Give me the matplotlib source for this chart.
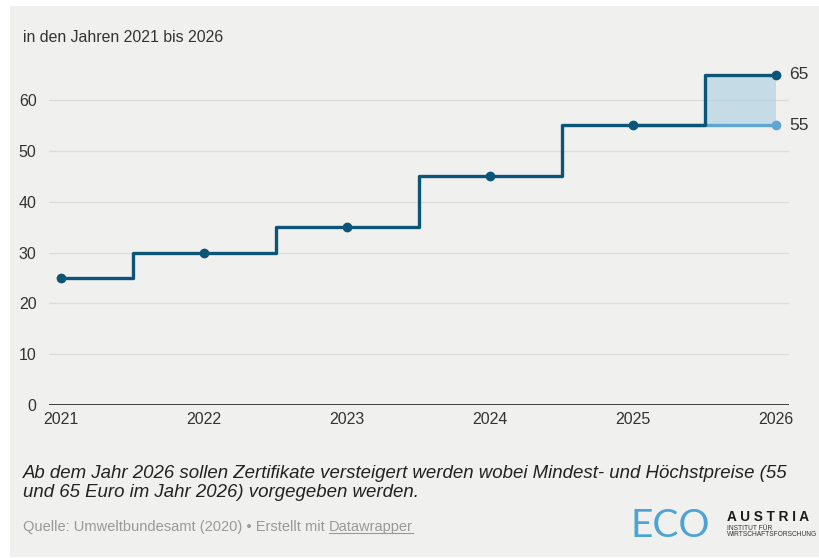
import numpy as np
import matplotlib.pyplot as plt

plt.rcParams['font.family'] = ['Liberation Sans', 'DejaVu Sans']

# data
years = [2021, 2022, 2023, 2024, 2025, 2026]
max_price = [25, 30, 35, 45, 55, 65]
min_years = [2025, 2026]
min_price = [55, 55]
yticks = [0, 10, 20, 30, 40, 50, 60]

dark = '#0d5576'
light = '#5ea6d1'
bg = '#f0f0ef'

fig = plt.figure(figsize=(8.19, 5.58), dpi=100)
fig.patch.set_facecolor('white')
# grey panel
fig.patches.append(plt.Rectangle((10 / 819, 0.002), 809 / 819, (557 - 6) / 558,
                                 transform=fig.transFigure, facecolor=bg,
                                 edgecolor='none', zorder=-5))

ax = fig.add_axes([49 / 819, (558 - 405) / 558, 740 / 819, 68 * 5.083 / 558])
ax.set_facecolor('none')
ax.set_xlim(2021 - 12 / 143, 2026 + 13 / 143)
ax.set_ylim(0, 68)
for s in ax.spines.values():
    s.set_visible(False)

for t in yticks[1:]:
    ax.axhline(t, color='#dcdcdc', lw=1, zorder=1)
ax.axhline(0, color='#333333', lw=1.3, zorder=2)

ax.set_yticks(yticks)
ax.set_xticks(years)
ax.tick_params(length=0, labelsize=11.5, labelcolor='#333333')
ax.tick_params(axis='y', pad=9)
ax.tick_params(axis='x', pad=5)

# shaded range in last year
ax.fill_between(min_years, min_price, max_price[-2:], step='mid',
                color='#a9cde0', alpha=0.6, lw=0, zorder=2)
ax.plot(min_years, min_price, drawstyle='steps-mid', color=light, lw=2.4,
        zorder=3)
ax.plot(years, max_price, drawstyle='steps-mid', color=dark, lw=2.4, zorder=4)
ax.plot(years, max_price, 'o', color=dark, ms=6, zorder=5)
ax.plot(min_years[-1], min_price[-1], 'o', color=light, ms=6, zorder=5)

ax.text(years[-1] + 0.09, max_price[-1], str(max_price[-1]), va='center',
        ha='left', fontsize=12.5, color='#333333')
ax.text(years[-1] + 0.09, min_price[-1], str(min_price[-1]), va='center',
        ha='left', fontsize=12.5, color='#333333')

fig.text(23 / 819, 1 - 37 / 558, 'in den Jahren 2021 bis 2026', fontsize=11.4,
         color='#333333', va='center')

fig.text(23 / 819, 1 - 483 / 558,
         'Ab dem Jahr 2026 sollen Zertifikate versteigert werden wobei Mindest- und Höchstpreise (55\n'
         'und 65 Euro im Jahr 2026) vorgegeben werden.',
         fontsize=13.4, style='italic', color='#222222', va='center',
         linespacing=1.22)

src = fig.text(23 / 819, 1 - 527 / 558,
               'Quelle: Umweltbundesamt (2020) • Erstellt mit ', fontsize=10.5,
               color='#999999', va='center')
fig.canvas.draw()
bb = src.get_window_extent()
fig.text(bb.x1 / 819, 1 - 527 / 558, 'Datawrapper', fontsize=10.5,
         color='#999999', va='center')
bb2 = fig.texts[-1].get_window_extent()
fig.add_artist(plt.Line2D([bb2.x0 / 819, bb2.x1 / 819],
                          [(bb2.y0 + 1) / 558, (bb2.y0 + 1) / 558],
                          color='#999999', lw=0.8))

# logo
fig.text(631 / 819, 1 - 526 / 558, 'ECO', fontsize=28, color='#4ea3d3',
         family='Lato', va='center')
fig.text(727 / 819, 1 - 517 / 558, 'A U S T R I A', fontsize=9.8,
         weight='bold', color='#1a1a1a', va='center')
fig.text(727 / 819, 1 - 529 / 558, 'INSTITUT FÜR', fontsize=4.8,
         color='#333333', va='center')
fig.text(727 / 819, 1 - 535 / 558, 'WIRTSCHAFTSFORSCHUNG', fontsize=4.8,
         color='#333333', va='center')

fig.savefig('out.png', dpi=100, facecolor='white')
